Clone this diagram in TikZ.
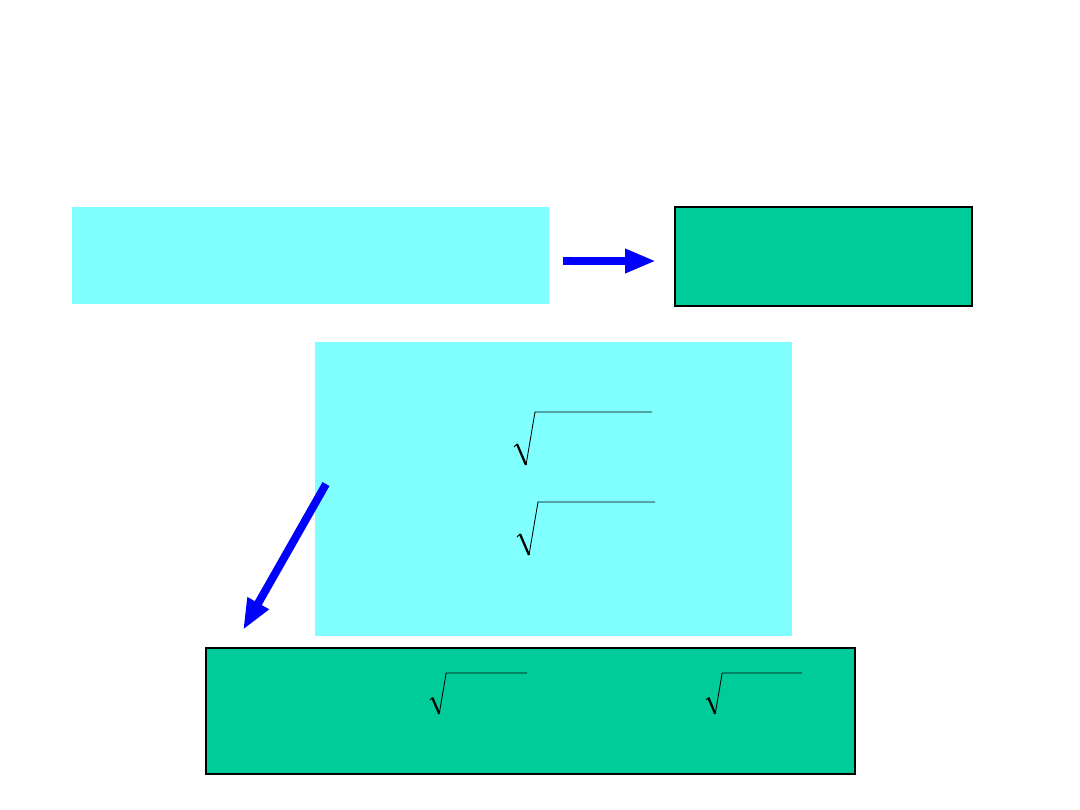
\documentclass[tikz,border=0pt]{standalone}
\usepackage{amssymb}
\usepackage{amsmath}
\usepackage{tikz}
\usetikzlibrary{arrows.meta}

\definecolor{lightcyan}{HTML}{80FFFF}
\definecolor{seagreen}{HTML}{00CC99}

\begin{document}
\begin{tikzpicture}[x=0.025cm,y=-0.025cm,
	cyanbox/.style={fill=lightcyan, inner sep=0pt},
	greenbox/.style={fill=seagreen, draw=black, line width=1.4pt, inner sep=0pt},
	bluearrow/.style={draw=blue, line width=5.7pt, -{Triangle[width=16pt,length=22pt]}}]

\useasboundingbox (0,0) rectangle (1080,810);

\node (ruleA) [cyanbox, minimum width=11.925cm, minimum height=2.425cm] at (310.5,255.5) {};
\node (ruleB) [greenbox, minimum width=7.425cm, minimum height=2.475cm] at (823.5,256.5) {};
\node (ruleC) [cyanbox, minimum width=11.925cm, minimum height=7.35cm] at (553.5,489) {};
\node (ruleD) [greenbox, minimum width=16.225cm, minimum height=3.15cm] at (530.5,711) {};

% arrows
\draw[bluearrow, shorten <=14*0.025cm, shorten >=18*0.025cm] (ruleA.east |- 261,261) -- (ruleB.west |- 261,261);
\coordinate (tail) at (326,484);
\coordinate (tip) at (243,630);
\draw[bluearrow] (tail) -- (tip);

% roots
\foreach \x/\y/\s/\b in {514/412/1/138, 517/502/1/138, 430/673/0.77/97, 706/673/0.77/96}{
	\draw[line width=0.7pt] (\x,\y+35*\s) -- (\x+3*\s,\y+32*\s);
	\draw[line width=1.6pt] (\x+3*\s,\y+32*\s) -- (\x+12*\s,\y+53*\s);
	\draw[line width=0.6pt] (\x+12*\s,\y+53*\s) -- (\x+21*\s,\y) -- (\x+\b,\y);
}

\end{tikzpicture}
\end{document}
